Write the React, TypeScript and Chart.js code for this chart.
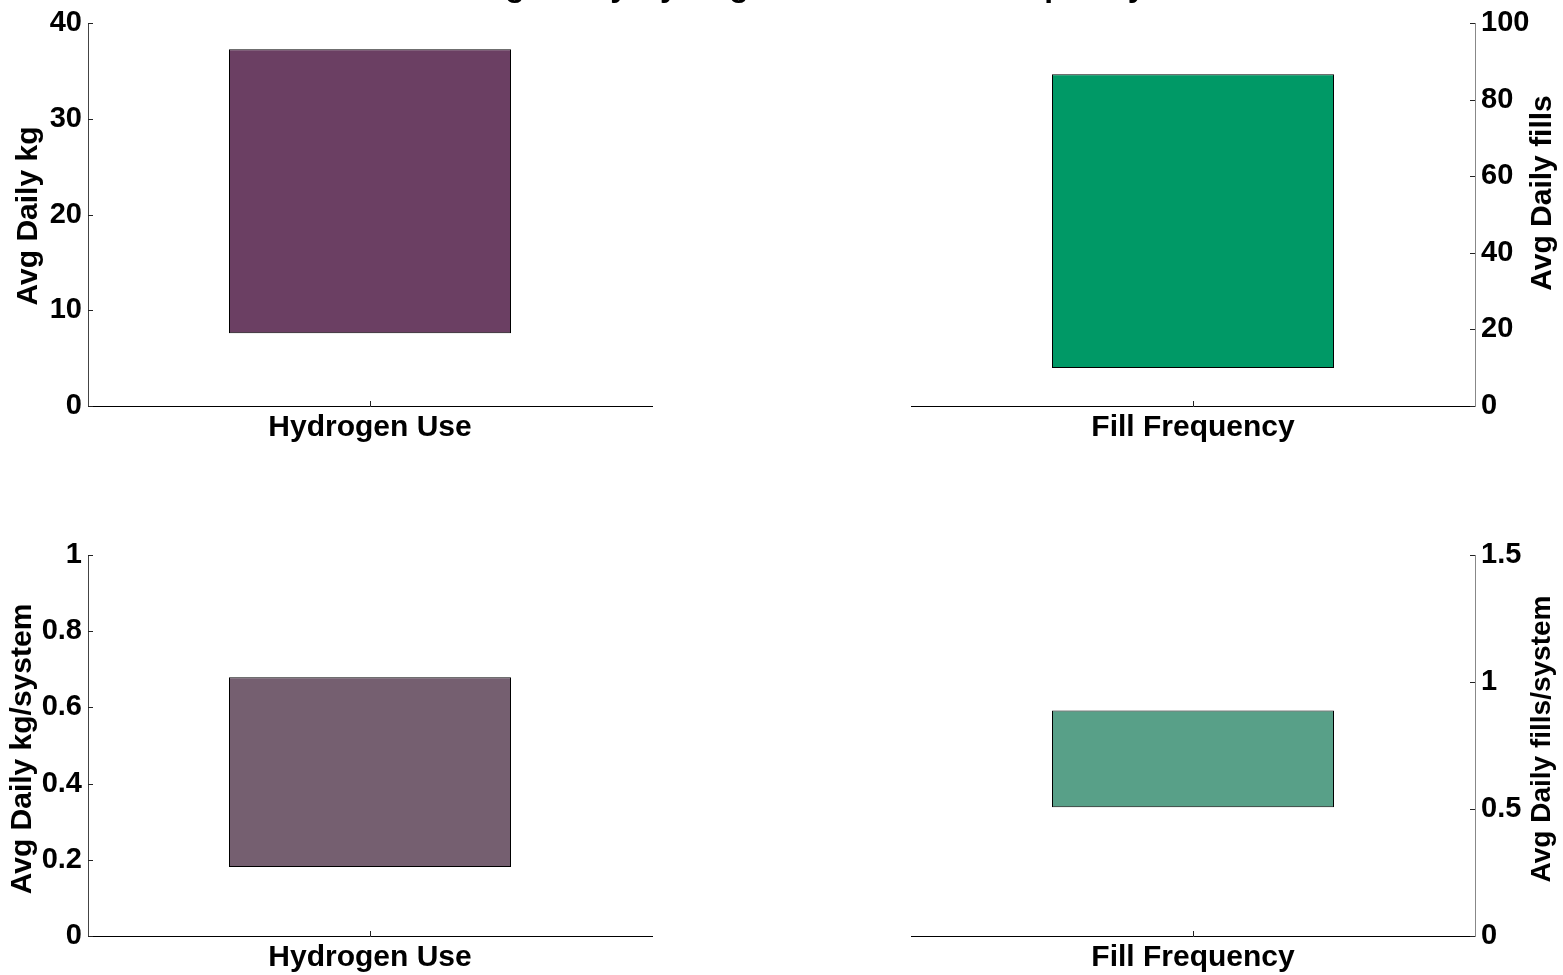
import { useEffect, useRef } from "react";
import { Chart, registerables } from "chart.js";

Chart.register(...registerables);

const figureTitle = "Average Daily Hydrogen Use and Fill Frequency";

const usageLabels = ["Hydrogen Use"];
const fillLabels = ["Fill Frequency"];

// Floating bars: [low, high]
const dailyKg: [number, number][] = [[7.6, 37.3]];
const dailyFills: [number, number][] = [[9.9, 86.7]];
const kgPerSystem: [number, number][] = [[0.181, 0.679]];
const fillsPerSystem: [number, number][] = [[0.507, 0.888]];

const dailyKgTicks = [0, 10, 20, 30, 40];
const dailyFillsTicks = [0, 20, 40, 60, 80, 100];
const kgPerSystemTicks = [0, 0.2, 0.4, 0.6, 0.8, 1];
const fillsPerSystemTicks = [0, 0.5, 1, 1.5];

const yTitles = [
  "Avg Daily kg",
  "Avg Daily fills",
  "Avg Daily kg/system",
  "Avg Daily fills/system",
];

const W = 1563;
const H = 975;
const FONT = "'Liberation Sans', Arial, Helvetica, sans-serif";
const TICK_SIZE = 29;
const LABEL_SIZE = 30;

type Side = "left" | "right";
interface Panel {
  labels: string[];
  data: [number, number][];
  ticks: number[];
  yTitle: string;
  color: string;
  side: Side;
  area: { l: number; t: number; r: number; b: number };
  titlePos: { x: number; y: number; size: number };
  axisColor: string;
  showFigureTitle?: boolean;
}

const panels: Panel[] = [
  {
    labels: usageLabels,
    data: dailyKg,
    ticks: dailyKgTicks,
    yTitle: yTitles[0],
    color: "#6B3F63",
    side: "left",
    area: { l: 88, t: 22, r: 652, b: 406 },
    titlePos: { x: 37, y: 216, size: LABEL_SIZE },
    axisColor: "#444",
    showFigureTitle: true,
  },
  {
    labels: fillLabels,
    data: dailyFills,
    ticks: dailyFillsTicks,
    yTitle: yTitles[1],
    color: "#009966",
    side: "right",
    area: { l: 911, t: 22, r: 1475, b: 406 },
    titlePos: { x: 1551, y: 193, size: LABEL_SIZE },
    axisColor: "#888",
  },
  {
    labels: usageLabels,
    data: kgPerSystem,
    ticks: kgPerSystemTicks,
    yTitle: yTitles[2],
    color: "#755F70",
    side: "left",
    area: { l: 88, t: 555, r: 652, b: 936 },
    titlePos: { x: 31, y: 749, size: LABEL_SIZE },
    axisColor: "#444",
  },
  {
    labels: fillLabels,
    data: fillsPerSystem,
    ticks: fillsPerSystemTicks,
    yTitle: yTitles[3],
    color: "#58A088",
    side: "right",
    area: { l: 911, t: 555, r: 1475, b: 936 },
    titlePos: { x: 1550, y: 739, size: 28 },
    axisColor: "#888",
  },
];

// Short tick marks pointing into the plot area
const inwardTicks = {
  id: "inwardTicks",
  afterDraw(chart: any) {
    const { ctx, chartArea: a } = chart;
    const y = chart.scales.y;
    const x = chart.scales.x;
    const right = y.options.position === "right";
    ctx.save();
    ctx.lineWidth = 1;
    ctx.strokeStyle = "#222";
    y.ticks.forEach((t: any) => {
      const py = Math.round(y.getPixelForValue(t.value)) + 0.5;
      const x0 = right ? a.right : a.left;
      ctx.beginPath();
      ctx.moveTo(x0, py);
      ctx.lineTo(x0 + (right ? -5 : 5), py);
      ctx.stroke();
    });
    x.ticks.forEach((_t: any, i: number) => {
      const px = Math.round(x.getPixelForTick(i)) + 0.5;
      ctx.beginPath();
      ctx.moveTo(px, a.bottom);
      ctx.lineTo(px, a.bottom - 5);
      ctx.stroke();
    });
    ctx.restore();
  },
};

// Rotated axis title reading bottom-to-top on either side
const sideTitle = {
  id: "sideTitle",
  afterDraw(chart: any, _args: any, opts: any) {
    if (!opts || !opts.text) return;
    const ctx = chart.ctx;
    ctx.save();
    ctx.translate(opts.x, opts.y);
    ctx.rotate(-Math.PI / 2);
    ctx.font = `bold ${opts.size}px ${FONT}`;
    ctx.fillStyle = "#000";
    ctx.textAlign = "center";
    ctx.textBaseline = "alphabetic";
    ctx.fillText(opts.text, 0, 0);
    ctx.restore();
  },
};

// Figure heading across the top edge
const figureHeading = {
  id: "figureHeading",
  afterDraw(chart: any, _args: any, opts: any) {
    if (!opts || !opts.text) return;
    const ctx = chart.ctx;
    ctx.save();
    ctx.font = `bold 32px ${FONT}`;
    ctx.fillStyle = "#000";
    ctx.textAlign = "center";
    ctx.textBaseline = "alphabetic";
    ctx.fillText(opts.text, W / 2, -4);
    ctx.restore();
  },
};

function PanelChart({ panel }: { panel: Panel }) {
  const ref = useRef<HTMLCanvasElement | null>(null);

  useEffect(() => {
    if (!ref.current) return;
    const { area, side, ticks } = panel;
    const padding =
      side === "left"
        ? { left: 0, top: area.t, right: W - area.r, bottom: 0 }
        : { left: area.l, top: area.t, right: 0, bottom: 0 };

    const chart = new Chart(ref.current, {
      type: "bar",
      data: {
        labels: panel.labels,
        datasets: [
          {
            data: panel.data as any,
            backgroundColor: panel.color,
            borderColor: "#000",
            borderWidth: 1,
            borderSkipped: false,
            barPercentage: 1,
            categoryPercentage: 0.5,
          },
        ],
      },
      options: {
        responsive: false,
        maintainAspectRatio: false,
        animation: false,
        layout: { padding },
        plugins: {
          legend: { display: false },
          tooltip: { enabled: false },
          sideTitle: {
            text: panel.yTitle,
            x: panel.titlePos.x,
            y: panel.titlePos.y,
            size: panel.titlePos.size,
          },
          figureHeading: { text: panel.showFigureTitle ? figureTitle : "" },
        } as any,
        scales: {
          x: {
            type: "category",
            grid: { display: false, drawTicks: false },
            border: { display: true, color: "#000", width: 1 },
            ticks: {
              color: "#000",
              font: { family: FONT, size: LABEL_SIZE, weight: "bold" },
              padding: 4,
              maxRotation: 0,
              autoSkip: false,
            },
            afterFit: (s: any) => {
              s.height = H - area.b;
            },
          },
          y: {
            position: side,
            min: ticks[0],
            max: ticks[ticks.length - 1],
            grid: { display: false, drawTicks: false },
            border: { display: true, color: panel.axisColor, width: 1 },
            ticks: {
              color: "#000",
              font: { family: FONT, size: TICK_SIZE, weight: "bold" },
              padding: 6,
              callback: (v: any) => String(Number(v)),
            },
            afterBuildTicks: (s: any) => {
              s.ticks = ticks.map((v) => ({ value: v }));
            },
            afterFit: (s: any) => {
              s.width = side === "left" ? area.l : W - area.r;
            },
          },
        },
      },
      plugins: [inwardTicks, sideTitle, figureHeading],
    });
    return () => chart.destroy();
  }, [panel]);

  return (
    <canvas
      ref={ref}
      width={W}
      height={H}
      style={{ position: "absolute", left: 0, top: 0, width: W, height: H }}
    />
  );
}

export default function App() {
  return (
    <div
      style={{
        position: "absolute",
        left: 0,
        top: 0,
        width: W,
        height: H,
        background: "#fff",
        overflow: "hidden",
      }}
    >
      {panels.map((p, i) => (
        <PanelChart key={i} panel={p} />
      ))}
    </div>
  );
}
